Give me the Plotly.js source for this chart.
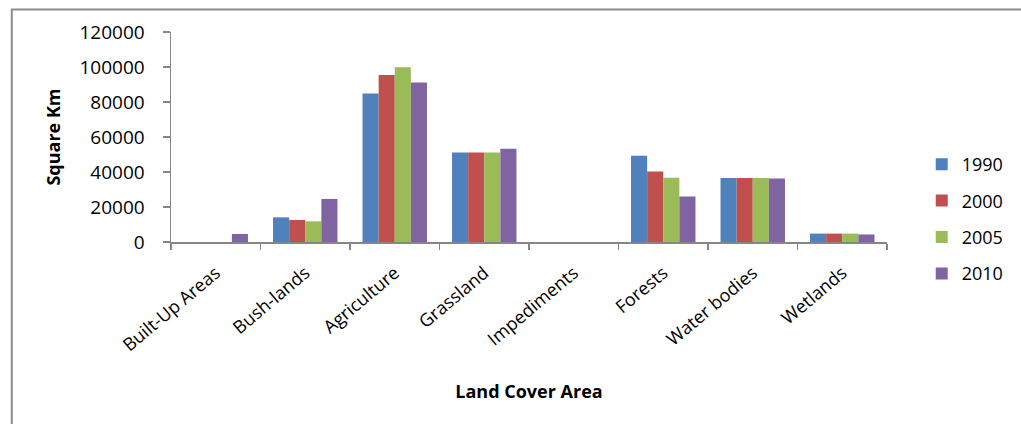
<!DOCTYPE html>
<html>
<head>
<meta charset="utf-8">
<script src="https://cdn.plot.ly/plotly-3.0.1.min.js"></script>
<style>html,body{margin:0;padding:0;background:#fff;}#chart{width:1021px;height:424px;}</style>
</head>
<body>
<div id="chart"></div>
<script>
const categories = ["Built-Up Areas", "Bush-lands", "Agriculture", "Grassland", "Impediments", "Forests", "Water bodies", "Wetlands"];
const years = ["1990", "2000", "2005", "2010"];
const values1990 = [0, 14100, 84900, 51200, 0, 49300, 36600, 4800];
const values2000 = [0, 12600, 95400, 51200, 0, 40300, 36600, 4800];
const values2005 = [0, 11800, 99800, 51200, 0, 36700, 36600, 4800];
const values2010 = [4600, 24600, 91200, 53300, 0, 26000, 36300, 4300];
const yTicks = [0, 20000, 40000, 60000, 80000, 100000, 120000];
const colors = ["#4F81BD", "#C0504D", "#9BBB59", "#8064A2"];

const series = [values1990, values2000, values2005, values2010];
const FONT = "Open Sans";

const traces = series.map((vals, i) => ({
  type: "bar",
  name: years[i],
  x: categories,
  y: vals,
  legendgroup: "g" + i,
  marker: {color: colors[i], line: {width: 0}},
  hoverinfo: "x+y+name"
}));

const ml = 171, mr = 108, mt = 32, mb = 182;
const W = 1021, H = 424;
const pw = W - ml - mr, ph = H - mt - mb;
const px = v => (v - ml) / pw;
const py = v => (H - mb - v) / ph;

const layout = {
  width: W, height: H,
  margin: {l: ml, r: mr, t: mt, b: mb, pad: 0},
  paper_bgcolor: "#ffffff",
  plot_bgcolor: "#ffffff",
  font: {family: FONT, color: "#000000", size: 16},
  barmode: "group",
  bargap: 0.28,
  bargroupgap: 0,
  showlegend: true,
  legend: {
    x: px(949), y: py(146), xanchor: "left", yanchor: "top",
    font: {family: FONT, size: 18, color: "#000"},
    traceorder: "grouped",
    tracegroupgap: 10,
    itemwidth: 30,
    borderwidth: 0,
    bgcolor: "rgba(0,0,0,0)"
  },
  xaxis: {
    type: "category",
    tickangle: -40,
    showline: true, linecolor: "#868686", linewidth: 1.5,
    ticks: "outside", tickson: "boundaries", ticklen: 6, tickcolor: "#868686", tickwidth: 1.5,
    ticklabelstandoff: 12,
    tickfont: {family: FONT, size: 18, color: "#000"},
    showgrid: false, zeroline: false,
    title: {text: "Land Cover Area", font: {family: FONT, size: 18, color: "#000", weight: "bold"}, standoff: 30},
    fixedrange: true
  },
  yaxis: {
    range: [0, 120000],
    tickvals: yTicks,
    ticktext: yTicks.map(String),
    showline: true, linecolor: "#868686", linewidth: 1.5,
    ticks: "outside", ticklen: 7, tickcolor: "#868686", tickwidth: 1.5,
    ticklabelstandoff: 14,
    tickfont: {family: FONT, size: 19, color: "#000"},
    showgrid: false, zeroline: false,
    title: {text: "Square Km", font: {family: FONT, size: 18, color: "#000", weight: "bold"}, standoff: 14},
    fixedrange: true
  },
  shapes: [{
    type: "rect", xref: "paper", yref: "paper",
    x0: px(6), x1: px(1100), y0: py(470), y1: py(9.5),
    line: {color: "#8c8c8c", width: 2}, fillcolor: "rgba(0,0,0,0)", layer: "below"
  }]
};

Plotly.newPlot("chart", traces, layout, {displayModeBar: false, staticPlot: true});
</script>
</body>
</html>
